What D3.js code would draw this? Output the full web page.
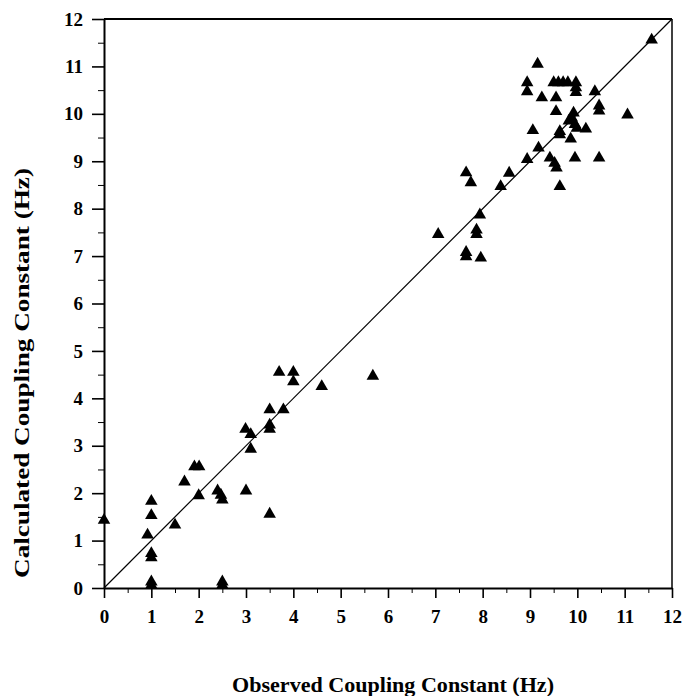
<!DOCTYPE html>
<html>
<head>
<meta charset="utf-8">
<script src="https://cdn.jsdelivr.net/npm/d3@7"></script>
<style>
  body { margin: 0; background: #fff; }
  text { font-family: "Liberation Serif", "Times New Roman", serif; font-weight: bold; fill: #000; }
</style>
</head>
<body>
<div id="chart"></div>
<script>
// observed vs calculated coupling constants (Hz)
const observed = [
  0.0, 1.0, 1.0, 0.92, 1.0, 1.0, 1.0, 1.0, 1.5, 1.7, 1.91, 2.01, 2.0, 2.4, 2.47, 2.5,
  2.5, 2.5, 3.0, 2.99, 3.1, 3.1, 3.5, 3.5, 3.5, 3.5, 3.7, 3.79, 4.0, 4.0, 4.6, 5.68,
  7.06, 7.65, 7.75, 7.65, 7.65, 7.87, 7.87, 7.94, 7.96, 8.38, 8.56, 8.94, 9.06, 9.18,
  8.94, 8.94, 9.16, 9.25, 9.55, 9.55, 9.5, 9.6, 9.7, 9.8, 9.97, 9.97, 9.97, 10.37,
  10.46, 10.46, 11.06, 9.92, 9.88, 9.82, 9.95, 9.99, 10.18, 9.63, 9.63, 9.86, 9.42,
  9.52, 9.56, 9.95, 10.46, 9.63, 11.57
];
const calculated = [
  1.43, 1.83, 1.53, 1.12, 0.73, 0.64, 0.13, 0.06, 1.33, 2.24, 2.56, 2.56, 1.95, 2.05, 1.96, 1.86,
  0.13, 0.06, 2.05, 3.35, 3.24, 2.93, 3.76, 3.44, 3.35, 1.56, 4.55, 3.76, 4.55, 4.35, 4.25, 4.47,
  7.46, 8.76, 8.55, 7.08, 6.99, 7.55, 7.46, 7.87, 6.96, 8.47, 8.75, 9.04, 9.65, 9.28,
  10.66, 10.47, 11.05, 10.34, 10.34, 10.05, 10.66, 10.66, 10.66, 10.66, 10.66, 10.55, 10.45, 10.47,
  10.17, 10.06, 9.98, 10.02, 9.92, 9.85, 9.78, 9.7, 9.68, 9.63, 9.56, 9.47, 9.07,
  8.96, 8.86, 9.07, 9.07, 8.47, 11.56
];
const majorTicks = [0, 1, 2, 3, 4, 5, 6, 7, 8, 9, 10, 11, 12];
const minorTicks = [0.5, 1.5, 2.5, 3.5, 4.5, 5.5, 6.5, 7.5, 8.5, 9.5, 10.5, 11.5];
const xTitle = "Observed Coupling Constant (Hz)";
const yTitle = "Calculated Coupling Constant (Hz)";

const width = 684, height = 696;
const margin = {left: 104, top: 19, right: 12, bottom: 108};
const w = width - margin.left - margin.right;
const h = height - margin.top - margin.bottom;

const svg = d3.select("#chart").append("svg")
  .attr("width", width)
  .attr("height", height);

const g = svg.append("g").attr("transform", `translate(${margin.left},${margin.top})`);

const x = d3.scaleLinear().domain([0, 12]).range([0, w]);
const y = d3.scaleLinear().domain([0, 12]).range([h, 0]);

// minor ticks
g.append("g")
  .attr("transform", `translate(0,${h})`)
  .call(d3.axisBottom(x).tickValues(minorTicks).tickSize(5).tickFormat(""))
  .call(a => a.select(".domain").remove());
g.append("g")
  .call(d3.axisLeft(y).tickValues(minorTicks).tickSize(6).tickFormat(""))
  .call(a => a.select(".domain").remove());

// major ticks + labels
const xAxis = g.append("g")
  .attr("transform", `translate(0,${h})`)
  .call(d3.axisBottom(x).tickValues(majorTicks).tickSize(10).tickSizeOuter(0).tickPadding(12).tickFormat(d3.format("d")));
const yAxis = g.append("g")
  .call(d3.axisLeft(y).tickValues(majorTicks).tickSize(12).tickSizeOuter(0).tickPadding(9).tickFormat(d3.format("d")));

[xAxis, yAxis].forEach(a => {
  a.attr("font-size", null).attr("font-family", null);
  a.selectAll("text").style("font-size", "19px").style("font-weight", "bold");
  a.selectAll("line").attr("stroke-width", 1.6);
  a.select(".domain").attr("stroke-width", 2);
});

// top and right frame
g.append("line").attr("x1", 0).attr("y1", 0).attr("x2", w).attr("y2", 0)
  .attr("stroke", "#000").attr("stroke-width", 1.8);
g.append("line").attr("x1", w).attr("y1", 0).attr("x2", w).attr("y2", h)
  .attr("stroke", "#000").attr("stroke-width", 1.5);

// y = x reference line
g.append("line")
  .attr("x1", x(0)).attr("y1", y(0))
  .attr("x2", x(12)).attr("y2", y(12))
  .attr("stroke", "#000").attr("stroke-width", 1.2);

const tri = d3.symbol().type(d3.symbolTriangle).size(68);
g.append("g").selectAll("path")
  .data(d3.zip(observed, calculated))
  .join("path")
  .attr("d", tri)
  .attr("transform", d => `translate(${x(d[0])},${y(d[1])})`)
  .attr("fill", "#000");

svg.append("text")
  .attr("x", 393).attr("y", 692)
  .attr("text-anchor", "middle")
  .attr("textLength", 322)
  .attr("lengthAdjust", "spacingAndGlyphs")
  .style("font-size", "20px")
  .text(xTitle);

svg.append("text")
  .attr("transform", "translate(29,373) rotate(-90)")
  .attr("text-anchor", "middle")
  .attr("textLength", 410)
  .attr("lengthAdjust", "spacingAndGlyphs")
  .style("font-size", "20px")
  .text(yTitle);
</script>
</body>
</html>
